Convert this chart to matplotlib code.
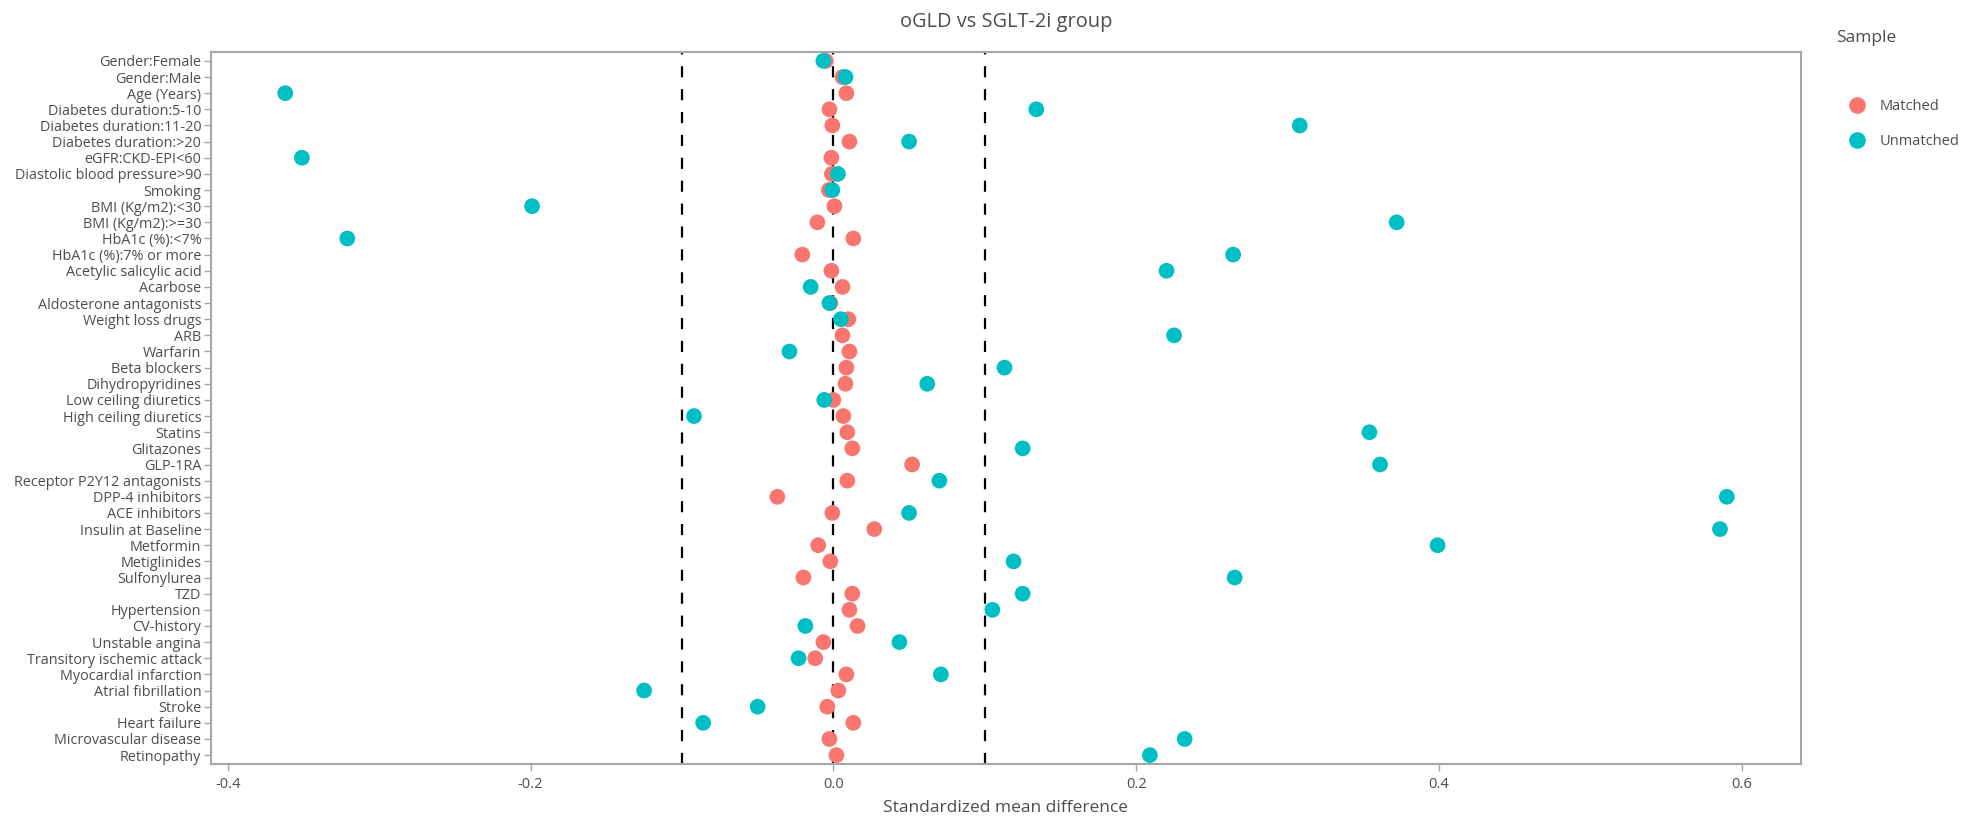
import matplotlib
matplotlib.use("Agg")
import matplotlib.pyplot as plt
from matplotlib.lines import Line2D
import numpy as np

plt.rcParams['font.family'] = ['Open Sans', 'DejaVu Sans']

categories = [
    "Gender:Female", "Gender:Male", "Age (Years)", "Diabetes duration:5-10",
    "Diabetes duration:11-20", "Diabetes duration:>20", "eGFR:CKD-EPI<60",
    "Diastolic blood pressure>90", "Smoking", "BMI (Kg/m2):<30", "BMI (Kg/m2):>=30",
    "HbA1c (%):<7%", "HbA1c (%):7% or more", "Acetylic salicylic acid", "Acarbose",
    "Aldosterone antagonists", "Weight loss drugs", "ARB", "Warfarin", "Beta blockers",
    "Dihydropyridines", "Low ceiling diuretics", "High ceiling diuretics", "Statins",
    "Glitazones", "GLP-1RA", "Receptor P2Y12 antagonists", "DPP-4 inhibitors",
    "ACE inhibitors", "Insulin at Baseline", "Metformin", "Metiglinides", "Sulfonylurea",
    "TZD", "Hypertension", "CV-history", "Unstable angina", "Transitory ischemic attack",
    "Myocardial infarction", "Atrial fibrillation", "Stroke", "Heart failure",
    "Microvascular disease", "Retinopathy",
]

matched = [
    -0.005, 0.006, 0.0086, -0.0026, -0.0007, 0.0106, -0.0013, -0.001, -0.003, 0.0007,
    -0.0106, 0.0132, -0.0205, -0.0013, 0.006, -0.002, 0.0099, 0.006, 0.0106, 0.0086,
    0.008, 0.0, 0.0066, 0.0092, 0.0125, 0.052, 0.0092, -0.037, -0.0007, 0.027,
    -0.010, -0.002, -0.0198, 0.0125, 0.0106, 0.016, -0.0066, -0.012, 0.0086, 0.0033,
    -0.004, 0.0132, -0.0026, 0.002,
]

unmatched = [
    -0.0066, 0.008, -0.362, 0.134, 0.308, 0.050, -0.351, 0.003, -0.0007, -0.199,
    0.372, -0.321, 0.264, 0.220, -0.015, -0.0026, 0.005, 0.225, -0.029, 0.113,
    0.062, -0.006, -0.092, 0.354, 0.125, 0.361, 0.070, 0.590, 0.050, 0.5855,
    0.399, 0.119, 0.265, 0.125, 0.105, -0.0185, 0.0436, -0.023, 0.071, -0.125,
    -0.050, -0.086, 0.232, 0.209,
]

ref_lines = [-0.1, 0.0, 0.1]
xticks = [-0.4, -0.2, 0.0, 0.2, 0.4, 0.6]
xticklabels = ["-0.4", "-0.2", "0.0", "0.2", "0.4", "0.6"]

RED = "#F8766D"
TEAL = "#00BFC4"
TXT = "#4d4d4d"
SPINE = "#a6a6a6"

W, H = 1983, 818
fig = plt.figure(figsize=(W / 100, H / 100), dpi=100)
ax = fig.add_axes([211 / W, 1 - 764 / H, (1801 - 211) / W, (764 - 52) / H])

y = np.arange(len(categories))
ms = 128
ax.scatter(matched, y, s=ms, color=RED, edgecolors='none', zorder=3, label="Matched")
ax.scatter(unmatched, y, s=ms, color=TEAL, edgecolors='none', zorder=4, label="Unmatched")

for xv in ref_lines:
    ax.axvline(xv, color="black", linewidth=1.6, linestyle=(0, (5, 5.3)), zorder=2)

ax.set_ylim(len(categories) - 1 + 0.55, -0.55)
ax.set_xlim(-0.411, 0.639)
ax.set_yticks(y)
ax.set_yticklabels(categories, fontsize=10.4, color=TXT)
ax.set_xticks(xticks)
ax.set_xticklabels(xticklabels, fontsize=10.5, color=TXT)
ax.tick_params(axis='both', direction='out', length=5, width=1.0, color=SPINE)
ax.tick_params(axis='y', pad=2)
ax.tick_params(axis='x', pad=4)
for sp in ax.spines.values():
    sp.set_color(SPINE)
    sp.set_linewidth(1.5)

ax.set_xlabel("Standardized mean difference", fontsize=12.5, color=TXT, labelpad=6)
ax.set_title("oGLD vs SGLT-2i group", fontsize=14.4, color=TXT, pad=18)

fig.text(1836 / W, 1 - 38 / H, "Sample", fontsize=12.5, color=TXT, ha='left', va='center')
handles = [
    Line2D([], [], marker='o', linestyle='none', markersize=12, markerfacecolor=RED,
           markeredgecolor='none'),
    Line2D([], [], marker='o', linestyle='none', markersize=12, markerfacecolor=TEAL,
           markeredgecolor='none'),
]
leg = fig.legend(handles, ["Matched", "Unmatched"], loc='upper left',
                 bbox_to_anchor=(1848 / W, 1 - 99 / H), frameon=False, fontsize=10.5,
                 handlelength=1.3, handletextpad=0.9, labelspacing=1.35, borderpad=0,
                 borderaxespad=0)
for t in leg.get_texts():
    t.set_color(TXT)

fig.savefig("out.png", dpi=100, facecolor="white")
